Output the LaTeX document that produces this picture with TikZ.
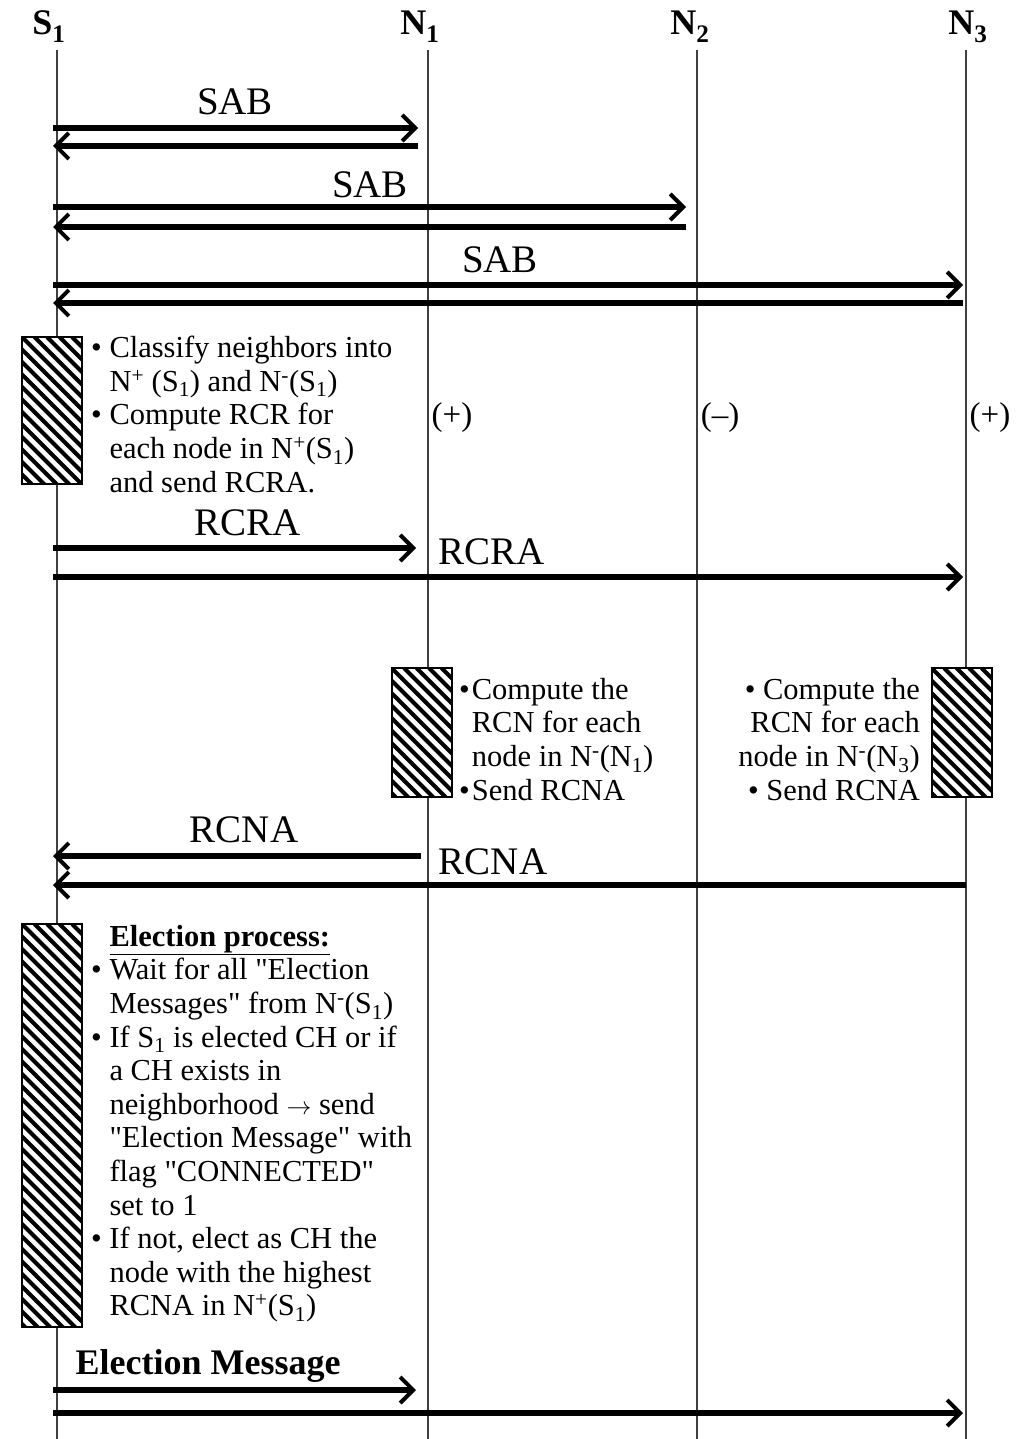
\documentclass[tikz,border=0pt]{standalone}
\usepackage{fontspec}
\setmainfont{Liberation Serif}[Ligatures=TeXOff]
\usetikzlibrary{arrows.meta,calc,positioning}

\newcommand{\bulitem}{\textbullet\ }
\newcommand{\bulgap}{\hphantom{\textbullet\ }}
\newcommand{\Nplus}{N\textsuperscript{+}}
\newcommand{\Nminus}{N\textsuperscript{-}}

\begin{document}
\begin{tikzpicture}[x=1pt,y=-1pt,
  head/.style={font=\bfseries\fontsize{36}{36}\selectfont},
  life/.style={line width=1.5pt,black!75},
  msg/.style={line width=6pt,-{Straight Barb[length=13pt,width=26pt,line width=4pt]}},
  lbl/.style={font=\fontsize{39}{39}\selectfont},
  note/.style={font=\fontsize{30.5}{33.6}\selectfont,inner sep=0pt},
  sign/.style={font=\fontsize{33}{33}\selectfont},
  hatchbox/.style={draw,line width=2pt,fill=white,minimum width=60pt,minimum height=#1,inner sep=0pt,
    path picture={\foreach \k in {-36,...,6}
      \draw[line width=4pt] ([xshift=\k*12.5pt]path picture bounding box.north west) -- ++(500,500);}}]
\useasboundingbox (0,0) rectangle (1015,1439);

% lifelines and their heads
\foreach \n/\x/\lx/\t/\i in {s1/57/49/S/1,n1/428/420/N/1,n2/697/690/N/2,n3/966/968/N/3}{
  \coordinate (\n) at (\x,50);
  \coordinate (\n-end) at (\x,1439);
  \draw[life] (\n) -- (\n-end);
  \node[head] (\n-head) at (\lx,27) {\t\textsubscript{\i}};
}

% messages
\foreach \y/\a/\b/\da/\db in {128/s1/n1/-4/-10, 146/n1/s1/-10/-4, 207/s1/n2/-4/-11, 227/n2/s1/-11/-4,
  285/s1/n3/-4/-3, 303/n3/s1/-3/-4, 548/s1/n1/-4/-12, 577/s1/n3/-4/-3,
  856/n1/s1/-7/-4, 885/n3/s1/0/-4, 1390/s1/n1/-4/-12, 1413/s1/n3/-4/-3}
  \draw[msg] ($(\a |- 0,\y)+(\da,0)$) -- ($(\b |- 0,\y)+(\db,0)$);

\node[lbl] (sab1) at (235,102) {SAB};
\node[lbl] (sab2) at (370,185) {SAB};
\node[lbl] (sab3) at (500,260) {SAB};
\node[lbl] (rcra1) at (248,523) {RCRA};
\node[lbl] (rcra3) at (492,552) {RCRA};
\node[lbl] (rcna1) at (244,830) {RCNA};
\node[lbl] (rcna3) at (493,862) {RCNA};
\node[lbl,font=\bfseries\fontsize{36}{36}\selectfont] (elmsg) at (208,1366) {Election Message};

% classification at S1
\node[hatchbox=147pt] (classbox) at (52,410.5) {};
\node[note,anchor=north west,align=left] (classtxt) at (91,336) {\bulitem Classify neighbors into\\
  \bulgap\Nplus\ (S\textsubscript{1}) and \Nminus(S\textsubscript{1})\\
  \bulitem Compute RCR for\\
  \bulgap each node in \Nplus(S\textsubscript{1})\\
  \bulgap and send RCRA.};

\node[sign] (n1sign) at (452,418) {(+)};
\node[sign] (n2sign) at (720,418) {(\textendash)};
\node[sign] (n3sign) at (990,418) {(+)};

% RCN at N1 and N3
\node[hatchbox=129pt] (rcnbox1) at (421.5,732.5) {};
\node[note,anchor=north west,align=left] (rcntxt1) at (459,678) {\textbullet\kern2pt Compute the\\
  \hphantom{\textbullet\kern2pt}RCN for each\\
  \hphantom{\textbullet\kern2pt}node in \Nminus(N\textsubscript{1})\\
  \textbullet\kern2pt Send RCNA};
\node[hatchbox=129pt] (rcnbox3) at (961.5,732.5) {};
\node[note,anchor=north east,align=right] (rcntxt3) at (920,678) {\textbullet\ Compute the\\
  RCN for each\\
  node in \Nminus(N\textsubscript{3})\\
  \textbullet\ Send RCNA};

% election at S1
\node[hatchbox=403pt] (electbox) at (52,1125.5) {};
\node[note,anchor=north west,align=left] (electtxt) at (91,925) {\bulgap\textbf{\underline{Election process:}}\\
  \bulitem Wait for all "Election\\
  \bulgap Messages" from \Nminus(S\textsubscript{1})\\
  \bulitem If S\textsubscript{1} is elected CH or if\\
  \bulgap a CH exists in\\
  \bulgap neighborhood $\rightarrow$ send\\
  \bulgap"Election Message" with\\
  \bulgap flag "CONNECTED"\\
  \bulgap set to 1\\
  \bulitem If not, elect as CH the\\
  \bulgap node with the highest\\
  \bulgap RCNA in \Nplus(S\textsubscript{1})};
\end{tikzpicture}
\end{document}
